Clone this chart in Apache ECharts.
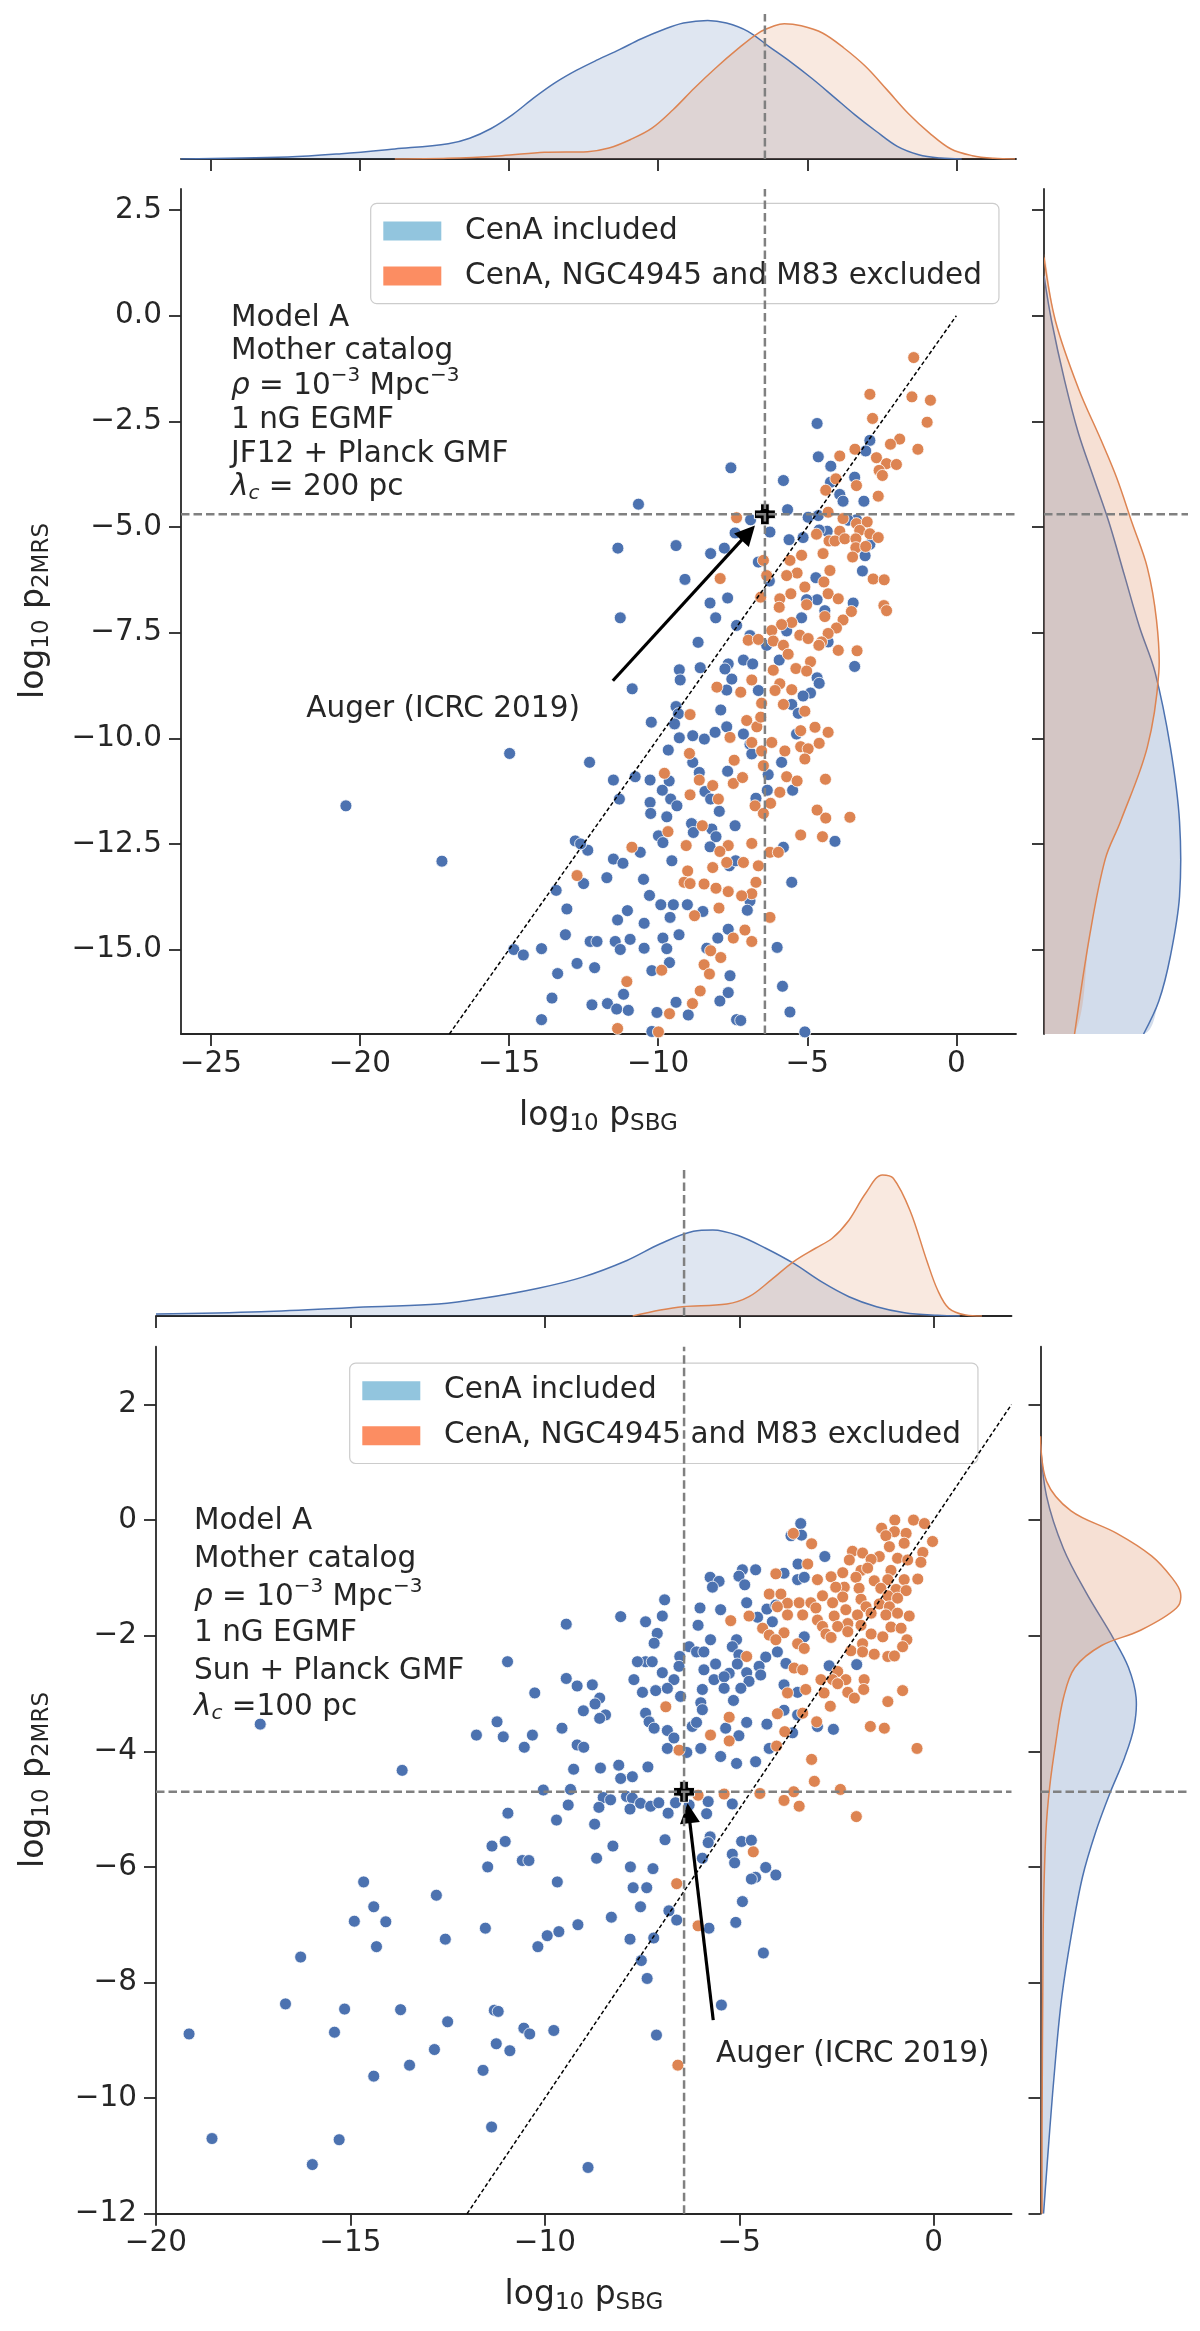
<!DOCTYPE html>
<html lang="en">
<head>
<meta charset="UTF-8">
<title>log10 p2MRS vs log10 pSBG, Model A</title>
<script src="https://cdn.jsdelivr.net/npm/echarts@6/dist/echarts.min.js"></script>
<style>html,body{margin:0;padding:0;background:#fff;}</style>
</head>
<body>
<div id="main" style="width:1200px;height:2331px;"></div>
<script>
// ---- values ----
// upper panel (JF12 + Planck GMF, lambda_c = 200 pc)
var aXTicks = [-25, -20, -15, -10, -5, 0];
var aYTicks = [-15, -12.5, -10, -7.5, -5, -2.5, 0, 2.5];
var aAuger = [-6.42, -4.7];
var aDiag = [[-17, -17], [0, 0]];
var aBlue = [
  [-7.56,-3.60],[-10.66,-4.46],[-7.42,-5.14],[-11.35,-5.50],[-9.40,-5.44],[-8.24,-5.63],[-7.78,-5.50],[-9.10,-6.24],
  [-7.67,-6.68],[-8.26,-6.80],[-11.27,-7.15],[-8.07,-7.15],[-7.37,-7.33],[-8.66,-7.73],[-9.29,-8.38],[-9.26,-8.62],
  [-8.59,-8.33],[-7.65,-8.24],[-7.76,-8.36],[-7.53,-8.60],[-7.70,-8.86],[-10.87,-8.83],
  [-4.67,-2.55],[-4.63,-3.34],[-4.21,-3.56],[-2.90,-2.95],[-3.04,-3.20],[-5.80,-3.90],[-3.41,-3.82],[-4.22,-3.94],
  [-3.91,-4.23],[-3.80,-4.39],[-3.10,-4.39],[-5.66,-4.59],[-6.90,-4.83],[-4.97,-4.77],[-4.63,-4.73],[-6.25,-5.12],
  [-5.61,-5.30],[-5.14,-5.25],[-4.33,-5.10],[-4.60,-5.07],[-3.35,-4.83],[-3.63,-4.84],[-2.90,-5.41],[-3.06,-5.68],
  [-3.15,-6.04],[-6.64,-5.83],[-6.27,-6.28],[-4.71,-6.20],[-4.67,-6.72],[-5.02,-6.72],[-4.41,-6.98],[-3.46,-6.80],
  [-5.19,-7.15],[-5.69,-7.46],[-6.92,-7.57],[-6.36,-7.80],[-4.30,-7.72],[-5.94,-8.15],[-7.14,-8.15],[-6.83,-8.24],
  [-3.41,-8.30],[-4.67,-8.57],[-4.60,-8.70],[-4.89,-8.93],[-5.14,-9.00],[-6.64,-8.87],
  [-14.98,-10.36],[-12.30,-10.57],[-10.23,-9.62],[-9.40,-9.25],[-9.32,-9.42],[-9.45,-9.66],[-9.29,-9.99],[-8.84,-9.94],
  [-8.45,-10.02],[-8.09,-9.86],[-7.70,-9.73],[-7.90,-9.33],[-9.66,-10.28],[-8.84,-10.57],[-8.62,-10.81],[-7.67,-10.78],
  [-11.50,-10.99],[-10.77,-10.91],[-10.27,-10.99],[-9.63,-11.01],[-9.86,-11.23],[-9.58,-11.44],[-9.37,-11.60],
  [-11.30,-11.44],[-10.27,-11.52],[-10.25,-11.78],[-9.71,-11.86],[-8.43,-11.26],[-8.24,-11.44],[-7.95,-11.73],
  [-7.42,-12.07],[-8.88,-12.02],[-8.82,-12.23],[-8.20,-12.15],[-8.06,-12.33],[-9.99,-12.31],[-9.84,-12.47],[-8.26,-12.57],
  [-12.78,-12.43],[-12.36,-12.65],[-12.60,-12.50],[-11.50,-12.86],[-11.18,-12.96],[-10.60,-12.70],[-9.54,-12.90],
  [-7.61,-13.02],[-7.40,-12.90],[-11.72,-13.30],[-10.49,-13.34],[-12.50,-13.44],[-13.42,-13.60],[-10.29,-13.72],
  [-9.91,-13.94],[-9.49,-13.94],[-9.02,-13.94],[-9.60,-14.24],[-8.50,-14.10],[-13.06,-14.04],[-11.03,-14.08],
  [-11.36,-14.30],[-10.47,-14.38],[-13.11,-14.65],[-12.28,-14.81],[-12.05,-14.81],[-11.44,-14.81],[-10.94,-14.76],
  [-11.27,-15.00],[-14.84,-15.00],[-14.52,-15.13],[-13.91,-14.98],[-10.47,-14.97],[-9.84,-14.73],[-9.71,-14.98],
  [-9.30,-14.65],[-12.72,-15.33],[-12.13,-15.43],[-13.37,-15.57],[-9.62,-15.31],[-10.21,-15.50],[-8.37,-14.97],
  [-8.00,-14.73],[-7.65,-14.52],[-7.59,-15.62],[-11.16,-16.06],[-13.56,-16.15],[-12.22,-16.31],[-11.70,-16.28],
  [-11.39,-16.41],[-11.00,-16.44],[-10.04,-16.49],[-9.40,-16.25],[-8.99,-16.55],[-7.93,-16.22],[-7.65,-16.02],
  [-13.91,-16.66],[-7.37,-16.66],[-10.21,-16.94],
  [-5.52,-9.20],[-5.30,-9.41],[-7.14,-9.90],[-6.92,-10.14],[-6.86,-10.37],[-5.36,-9.90],[-5.86,-10.57],[-6.31,-10.86],
  [-6.34,-11.23],[-5.49,-11.23],[-6.72,-11.42],[-4.07,-12.44],[-5.80,-12.58],[-5.52,-13.41],[-6.92,-13.85],
  [-7.01,-14.07],[-6.01,-14.95],[-5.83,-15.87],[-5.58,-16.48],[-7.23,-16.68],[-5.08,-16.95],
  [-20.47,-11.60],[-17.25,-12.91]
];
var aOrange = [
  [-7.37,-4.78],[-7.92,-6.22],[-8.03,-8.79],
  [-1.43,-0.99],[-2.90,-1.86],[-1.49,-1.92],[-0.87,-2.00],[-2.81,-2.43],[-0.98,-2.52],[-1.90,-2.92],[-2.21,-3.04],
  [-1.29,-3.16],[-3.40,-3.16],[-3.91,-3.32],[-2.68,-3.36],[-2.34,-3.50],[-2.01,-3.52],[-2.59,-3.66],[-2.48,-3.78],
  [-4.04,-3.86],[-3.35,-4.02],[-4.38,-4.13],[-2.62,-4.27],[-4.30,-4.65],[-3.80,-4.80],[-3.35,-4.92],[-2.99,-4.88],
  [-3.24,-5.08],[-2.90,-5.16],[-2.62,-5.25],[-3.91,-5.10],[-4.69,-5.17],[-4.27,-5.33],[-4.07,-5.33],[-3.74,-5.28],
  [-3.37,-5.28],[-3.37,-5.49],[-3.04,-5.46],[-3.48,-5.71],[-4.47,-5.63],[-5.19,-5.67],[-5.58,-5.79],[-6.47,-5.79],
  [-4.24,-6.03],[-5.34,-6.09],[-5.69,-6.15],[-6.36,-6.15],[-2.79,-6.23],[-2.42,-6.25],[-4.44,-6.30],[-5.08,-6.42],
  [-6.56,-6.66],[-5.55,-6.58],[-4.30,-6.58],[-5.92,-6.70],[-3.96,-6.70],[-5.02,-6.84],[-5.94,-6.90],[-2.43,-6.86],
  [-2.34,-6.98],[-3.52,-7.00],[-4.41,-7.12],[-3.80,-7.20],[-5.52,-7.26],[-5.86,-7.31],[-4.02,-7.39],[-6.19,-7.45],
  [-4.30,-7.52],[-5.25,-7.56],[-4.97,-7.64],[-6.98,-7.68],[-6.64,-7.66],[-6.14,-7.70],[-4.52,-7.72],[-5.80,-7.80],
  [-4.61,-7.80],[-3.96,-7.92],[-3.33,-7.93],[-5.64,-8.01],[-4.89,-8.19],[-5.38,-8.35],[-5.02,-8.41],[-6.14,-8.39],
  [-6.86,-8.62],[-5.92,-8.71],[-5.52,-8.85],[-6.08,-8.87],[-7.23,-8.91],
  [-8.93,-9.44],[-7.59,-9.98],[-8.95,-10.36],[-7.45,-10.52],[-9.79,-10.83],[-8.62,-10.99],[-8.17,-11.12],[-7.48,-11.07],
  [-8.93,-11.34],[-7.98,-11.44],[-8.52,-12.07],[-9.67,-12.21],[-10.88,-12.58],[-9.06,-12.54],[-7.65,-12.54],
  [-7.93,-12.68],[-7.70,-12.94],[-8.17,-13.06],[-9.01,-13.14],[-12.72,-13.25],[-9.13,-13.41],[-8.93,-13.44],
  [-8.46,-13.45],[-8.06,-13.55],[-7.65,-13.63],[-7.96,-14.02],[-8.78,-14.20],[-7.48,-14.73],[-8.24,-15.03],
  [-7.90,-15.19],[-8.46,-15.36],[-8.28,-15.58],[-9.88,-15.49],[-11.05,-15.76],[-8.59,-15.98],[-8.85,-16.28],
  [-9.62,-16.52],[-11.36,-16.87],[-9.99,-16.95],
  [-6.53,-9.17],[-5.80,-9.20],[-7.03,-9.58],[-6.69,-9.73],[-6.56,-9.50],[-5.08,-9.36],[-5.22,-9.82],[-4.74,-9.74],
  [-4.30,-9.86],[-6.86,-10.10],[-6.19,-10.10],[-6.53,-10.30],[-5.75,-10.30],[-5.22,-10.20],[-4.97,-10.25],
  [-4.60,-10.12],[-5.08,-10.49],[-6.47,-10.65],[-7.17,-10.93],[-5.69,-10.91],[-5.34,-11.01],[-4.39,-10.97],
  [-5.92,-11.28],[-6.23,-11.54],[-6.75,-11.60],[-6.47,-11.78],[-4.67,-11.70],[-4.38,-11.89],[-3.57,-11.87],
  [-5.22,-12.29],[-4.49,-12.33],[-6.86,-12.49],[-6.25,-12.70],[-5.97,-12.70],[-7.14,-12.94],[-6.64,-13.02],
  [-6.72,-13.41],[-6.86,-13.68],[-7.20,-13.73],[-6.25,-14.24],[-7.09,-14.54],[-6.86,-14.81]
];
// marginal densities: [x, density] on top, [density, y] on the side
var aKdeTopBlue = [[-26,0],[-22.42,0.0014],[-20.62,0.0038],[-18.83,0.0072],[-17.04,0.011],[-16.32,0.015],[-15.60,0.022],
  [-14.88,0.032],[-14.17,0.044],[-13.45,0.055],[-12.73,0.064],[-12.02,0.0716],[-11.30,0.0788],[-10.58,0.0865],
  [-9.86,0.093],[-9.15,0.098],[-8.34,0.0999],[-7.71,0.098],[-6.99,0.092],[-6.28,0.081],[-5.56,0.070],[-4.84,0.058],
  [-4.12,0.045],[-3.41,0.032],[-2.69,0.020],[-1.98,0.0091],[-1.26,0.0031],[-0.54,0.0007],[0.18,0]];
var aKdeTopOrange = [[-18.83,0],[-17.04,0.0005],[-15.24,0.0024],[-13.81,0.0048],[-12.37,0.0053],[-11.65,0.0079],
  [-10.94,0.0139],[-10.22,0.022],[-9.50,0.0355],[-8.79,0.051],[-8.07,0.0656],[-7.36,0.0788],[-6.64,0.0908],
  [-6.10,0.096],[-5.77,0.0975],[-5.20,0.096],[-4.49,0.0908],[-3.77,0.080],[-3.05,0.0668],[-2.33,0.050],
  [-1.62,0.033],[-0.90,0.0187],[-0.18,0.0072],[0.54,0.0024],[1.25,0.0005],[1.97,0]];
var aKdeSideBlue = [[0,0.94],[0.0055,-0.13],[0.0149,-1.54],[0.0248,-2.78],[0.0358,-3.84],[0.0469,-4.90],[0.0579,-6.14],
  [0.0689,-7.38],[0.080,-8.44],[0.091,-10.21],[0.0976,-11.97],[0.0976,-13.74],[0.091,-15.16],[0.0827,-16.22],[0.0717,-17]];
var aKdeSideOrange = [[0,1.38],[0.0083,-0.13],[0.0248,-1.72],[0.0413,-2.96],[0.0524,-3.84],[0.0634,-4.90],
  [0.0744,-5.96],[0.081,-7.20],[0.0827,-8.44],[0.0744,-10.21],[0.0551,-11.97],[0.0441,-12.86],[0.0331,-14.63],[0.022,-17]];

// lower panel (Sun + Planck GMF, lambda_c = 100 pc)
var bXTicks = [-20, -15, -10, -5, 0];
var bYTicks = [-12, -10, -8, -6, -4, -2, 0, 2];
var bAuger = [-6.42, -4.7];
var bDiag = [[-12, -12], [2, 2]];
var bBlue = [
  [-3.42,-0.06],[-3.67,-0.27],[-3.40,-0.26],[-2.80,-0.63],[-3.49,-0.76],[-4.58,-0.86],[-4.92,-0.86],[-5.01,-0.97],
  [-4.86,-1.12],[-5.75,-0.99],[-5.52,-1.06],[-5.69,-1.16],[-3.85,-0.92],[-3.50,-1.03],[-3.33,-0.99],[-6.92,-1.38],
  [-4.81,-1.43],[-6.01,-1.52],[-5.48,-1.55],[-4.29,-1.54],[-4.06,-1.47],[-6.98,-1.66],[-7.41,-1.76],[-6.06,-1.82],
  [-4.53,-1.68],[-4.15,-1.76],[-7.11,-1.96],[-7.19,-2.13],[-5.74,-2.07],[-5.07,-2.07],[-6.29,-2.19],[-6.10,-2.28],
  [-5.91,-2.28],[-5.18,-2.19],[-6.53,-2.36],[-5.01,-2.33],[-4.02,-2.28],[-3.33,-2.02],[-4.32,-2.37],[-7.41,-2.45],
  [-7.24,-2.45],[-5.61,-2.49],[-5.05,-2.49],[-6.55,-2.53],[-6.98,-2.64],[-5.91,-2.59],[-5.26,-2.65],[-4.81,-2.64],
  [-4.49,-2.53],[-3.80,-2.48],[-2.69,-2.52],[-1.98,-2.50],[-6.68,-2.76],[-5.65,-2.76],[-5.39,-2.71],[-4.75,-2.79],
  [-4.45,-2.68],[-6.85,-2.91],[-7.15,-2.95],[-7.49,-2.98],[-5.95,-2.93],[-5.39,-2.91],[-4.96,-2.91],[-3.85,-2.85],
  [-6.51,-3.05],[-3.50,-2.98],[-5.15,-3.12],[-5.99,-3.16],[-5.95,-3.28],[-7.41,-3.34],[-3.85,-3.29],[-3.50,-3.37],
  [-7.32,-3.49],[-7.19,-3.60],[-6.21,-3.57],[-6.10,-3.50],[-5.35,-3.60],[-4.81,-3.50],[-4.29,-3.53],[-2.99,-3.57],
  [-2.58,-3.62],[-6.85,-3.64],[-6.68,-3.77],[-5.01,-3.73],[-3.63,-3.68],[-6.85,-3.95],[-6.35,-4.02],[-5.99,-3.95],
  [-4.23,-3.95],[-5.48,-4.09],[-5.07,-4.21],[-4.58,-4.18],[-7.35,-4.27],
  [-8.05,-1.67],[-9.45,-1.80],[-10.96,-2.45],[-7.62,-2.45],[-9.45,-2.74],[-9.17,-2.87],[-8.78,-2.85],[-7.71,-2.76],
  [-10.26,-2.99],[-8.59,-3.08],[-8.71,-3.18],[-9.01,-3.30],[-8.44,-3.37],[-8.59,-3.43],[-11.23,-3.49],[-11.76,-3.72],
  [-11.07,-3.75],[-10.32,-3.72],[-9.56,-3.60],[-10.53,-3.93],[-9.17,-3.89],[-9.00,-3.93],[-13.67,-4.33],[-9.26,-4.31],
  [-8.57,-4.29],[-8.10,-4.24],[-8.05,-4.47],[-7.75,-4.44],[-10.04,-4.67],[-9.34,-4.66],[-8.50,-4.80],[-7.90,-4.78],
  [-10.95,-5.07],[-9.40,-4.93],[-9.70,-5.19],[-8.72,-5.26],[-8.31,-4.84],[-8.61,-4.97],[-7.75,-4.81],[-7.81,-5.00],
  [-7.54,-4.90],[-7.28,-4.95],[-7.07,-4.89],[-6.83,-5.07],[-6.64,-4.89],[-6.29,-4.93],[-5.80,-4.87],[-5.18,-4.91],
  [-5.84,-5.08],[-11.36,-5.64],[-11.02,-5.56],[-11.47,-6.00],[-10.58,-5.89],[-10.41,-5.89],[-8.25,-5.64],[-8.67,-5.85],
  [-6.91,-5.53],[-7.80,-6.00],[-7.22,-6.03],[-9.68,-6.26],[-7.73,-6.36],[-7.38,-6.36],[-7.54,-6.69],[-12.79,-6.49],
  [-12.56,-7.25],[-11.53,-7.06],[-10.18,-7.38],[-9.94,-7.19],[-9.64,-7.12],[-9.15,-7.00],[-8.29,-6.87],[-7.81,-7.25],
  [-7.20,-7.23],[-6.81,-6.76],[-6.61,-6.92],[-7.52,-7.62],[-7.37,-7.93],[-5.78,-7.06],[-5.75,-5.48],[-5.80,-5.58],
  [-5.95,-5.85],[-5.18,-5.78],[-5.12,-5.93],[-4.94,-5.56],[-4.69,-5.54],[-4.32,-6.01],[-4.58,-6.18],[-4.69,-6.21],
  [-4.06,-6.14],[-4.92,-6.60],[-5.09,-6.96],[-4.38,-7.49],[-5.46,-8.39],[-12.50,-8.68],[-11.30,-8.48],[-11.20,-8.50],
  [-10.54,-8.79],[-10.39,-8.89],[-9.77,-8.83],[-11.25,-9.06],[-10.90,-9.18],[-12.84,-9.16],[-11.59,-9.52],[-7.13,-8.91],
  [-17.32,-3.53],[-19.15,-8.89],[-18.56,-10.70],[-15.98,-11.15],[-15.29,-10.72],[-16.67,-8.37],[-16.28,-7.56],
  [-15.41,-8.86],[-15.15,-8.46],[-14.90,-6.94],[-14.66,-6.26],[-14.40,-6.69],[-14.33,-7.38],[-14.09,-6.95],
  [-14.40,-9.62],[-13.71,-8.47],[-13.48,-9.43],[-11.37,-10.50],[-8.89,-11.20]
];
var bOrange = [
  [-1.00,0.00],[-0.52,0.00],[-0.24,-0.06],[-1.34,-0.14],[-1.01,-0.20],[-0.71,-0.23],[-1.23,-0.27],[-0.03,-0.37],
  [-3.61,-0.23],[-3.14,-0.41],[-0.76,-0.40],[-1.14,-0.46],[-2.09,-0.54],[-1.83,-0.57],[-1.40,-0.63],[-0.93,-0.66],
  [-0.28,-0.56],[-0.33,-0.73],[-1.61,-0.68],[-2.17,-0.69],[-0.67,-0.69],[-3.24,-0.76],[-1.87,-0.87],[-2.34,-0.91],
  [-1.70,-0.83],[-1.10,-0.87],[-4.06,-0.93],[-2.64,-0.98],[-2.99,-1.03],[-2.00,-0.99],[-1.53,-1.05],[-1.18,-1.03],
  [-0.76,-1.03],[-0.41,-1.02],[-2.30,-1.16],[-1.92,-1.18],[-2.52,-1.16],[-1.36,-1.18],[-0.97,-1.20],[-0.71,-1.22],
  [-4.23,-1.28],[-3.93,-1.28],[-2.86,-1.31],[-2.34,-1.33],[-1.18,-1.31],[-0.93,-1.35],[-3.76,-1.44],[-3.46,-1.43],
  [-3.16,-1.43],[-2.60,-1.43],[-1.87,-1.37],[-1.40,-1.45],[-4.02,-1.50],[-3.03,-1.52],[-2.26,-1.55],[-1.74,-1.50],
  [-1.14,-1.50],[-3.76,-1.64],[-3.37,-1.64],[-2.56,-1.66],[-1.96,-1.64],[-1.61,-1.61],[-1.23,-1.64],[-0.93,-1.61],
  [-0.63,-1.66],[-4.75,-1.66],[-5.22,-1.74],[-2.99,-1.73],[-2.21,-1.79],[-1.87,-1.82],[-4.40,-1.87],[-2.86,-1.84],
  [-2.47,-1.84],[-1.10,-1.85],[-0.84,-1.87],[-4.23,-1.99],[-3.85,-1.95],[-2.77,-1.97],[-2.21,-1.93],[-1.61,-1.97],
  [-4.06,-2.07],[-2.64,-2.03],[-1.31,-2.02],[-0.69,-2.07],[-3.50,-2.14],[-1.83,-2.14],[-0.80,-2.19],[-3.33,-2.22],
  [-2.13,-2.26],[-1.83,-2.28],[-1.53,-2.32],[-1.18,-2.36],[-1.01,-2.35],[-4.81,-2.36],[-3.59,-2.56],[-3.37,-2.59],
  [-2.47,-2.62],[-2.90,-2.76],[-2.60,-2.76],[-2.26,-2.76],[-1.79,-2.76],[-3.29,-2.93],[-2.82,-2.99],[-2.47,-2.83],
  [-2.21,-2.98],[-1.80,-2.93],[-3.76,-2.99],[-2.04,-3.08],[-0.80,-2.95],[-1.18,-3.14],[-2.66,-3.22],[-6.89,-3.23],
  [-4.02,-3.35],[-3.37,-3.34],[-5.26,-3.41],[-3.01,-3.49],[-1.63,-3.57],[-1.27,-3.60],[-3.83,-3.66],[-5.74,-3.72],
  [-5.26,-3.82],[-4.04,-3.91],[-6.55,-3.98],[-0.43,-3.95],[-3.14,-4.14],
  [-6.06,-4.76],[-5.39,-4.74],[-4.47,-4.73],[-3.85,-4.85],[-3.46,-4.95],[-3.60,-4.70],[-4.64,-5.74],[-6.61,-6.29],
  [-6.06,-7.02],[-6.58,-9.43],[-2.40,-4.66],[-1.99,-5.13],[-3.07,-4.52]
];
var bKdeTopBlue = [[-20,0.0014],[-17.30,0.0031],[-14.45,0.0067],[-12.74,0.0086],[-11.60,0.0127],[-10.17,0.020],
  [-9.03,0.028],[-7.89,0.040],[-7.03,0.052],[-6.18,0.061],[-5.68,0.062],[-5.03,0.058],[-4.32,0.0488],[-3.61,0.038],
  [-2.89,0.0247],[-2.18,0.0139],[-1.47,0.0067],[-0.75,0.0024],[0.10,0.0005],[0.67,0]];
var bKdeTopOrange = [[-7.74,0],[-7.03,0.0043],[-6.46,0.0067],[-5.32,0.0086],[-4.75,0.0139],[-4.18,0.026],
  [-3.61,0.039],[-3.04,0.0488],[-2.61,0.056],[-2.18,0.069],[-1.75,0.0884],[-1.32,0.1016],[-1.04,0.0992],
  [-0.61,0.076],[-0.18,0.040],[0.10,0.0187],[0.39,0.0055],[0.82,0.0007],[1.24,0]];
var bKdeSideBlue = [[0,1.32],[0.0044,0.41],[0.0165,-0.49],[0.033,-1.26],[0.0524,-2.04],[0.0634,-2.55],[0.0689,-3.07],
  [0.0673,-3.59],[0.0606,-4.11],[0.0496,-4.75],[0.0397,-5.40],[0.0303,-6.17],[0.022,-7.21],[0.0154,-8.24],
  [0.011,-9.28],[0.0066,-10.57],[0.0022,-12]];
var bKdeSideOrange = [[0,1.45],[0.0044,0.67],[0.022,0.16],[0.055,-0.23],[0.080,-0.62],[0.0948,-1.0],[0.1009,-1.26],
  [0.098,-1.52],[0.0717,-1.91],[0.044,-2.17],[0.0248,-2.55],[0.0166,-3.07],[0.011,-3.85],[0.0066,-4.62],
  [0.0039,-5.40],[0.0022,-6.69],[0.0017,-7.98],[0.0011,-10.57],[0.0011,-12]];

var legendNames = ['CenA included', 'CenA, NGC4945 and M83 excluded'];

// ---- styling ----
var FONT = 'DejaVu Sans';
var INK = '#262626';
var BLUE = '#4c72b0', ORANGE = '#dd8452';
var BLUE_FILL = 'rgba(76,114,176,0.25)', ORANGE_FILL = 'rgba(221,132,82,0.25)';
var REF = '#808080';
var PLUS = 'path://M-1.25,-3L1.25,-3L1.25,-1.25L3,-1.25L3,1.25L1.25,1.25L1.25,3L-1.25,3L-1.25,1.25L-3,1.25L-3,-1.25L-1.25,-1.25Z';

function minus(s) { return String(s).replace('-', '\u2212'); }

var panels = [
  {
    main: {left: 181, top: 189, width: 835, height: 845},
    topM: {left: 181, top: 14, width: 835, height: 145},
    sideM: {left: 1044, top: 189, width: 144, height: 845},
    xr: [-26, 2], yr: [-17, 3], topMax: 0.1045, sideMax: 0.1037, yDec: 1,
    xTicks: aXTicks, yTicks: aYTicks, blue: aBlue, orange: aOrange, auger: aAuger, diag: aDiag,
    kTB: aKdeTopBlue, kTO: aKdeTopOrange, kSB: aKdeSideBlue, kSO: aKdeSideOrange,
    arrowFrom: [-11.52, -8.64], arrowTo: [-6.98, -5.14], labelAt: [-21.8, -9.32],
    legend: {left: 370.7, top: 203.3},
    textX: 231, textY: [318, 351, 386, 420, 454, 487],
    lines: ['Model A', 'Mother catalog', '{i|\u03c1}{n| = 10}{sup|\u22123}{n| Mpc}{sup|\u22123}', '1 nG EGMF',
            'JF12 + Planck GMF', '{i|\u03bb}{sub|c}{n| = 200 pc}'],
    xName: [598.5, 1116], yName: [34.4, 611]
  },
  {
    main: {left: 156, top: 1346.7, width: 855.5, height: 867},
    topM: {left: 156, top: 1167, width: 855.5, height: 149},
    sideM: {left: 1040.5, top: 1346.7, width: 147.5, height: 867},
    xr: [-20, 2], yr: [-12, 3], topMax: 0.1073, sideMax: 0.1063, yDec: 0,
    xTicks: bXTicks, yTicks: bYTicks, blue: bBlue, orange: bOrange, auger: bAuger, diag: bDiag,
    kTB: bKdeTopBlue, kTO: bKdeTopOrange, kSB: bKdeSideBlue, kSO: bKdeSideOrange,
    arrowFrom: [-5.67, -8.65], arrowTo: [-6.30, -5.07], labelAt: [-5.60, -9.25],
    legend: {left: 349.7, top: 1363.1},
    textX: 194, textY: [1521.5, 1559, 1597, 1633.5, 1671.6, 1707],
    lines: ['Model A', 'Mother catalog', '{i|\u03c1}{n| = 10}{sup|\u22123}{n| Mpc}{sup|\u22123}', '1 nG EGMF',
            'Sun + Planck GMF', '{i|\u03bb}{sub|c}{n| =100 pc}'],
    xName: [584, 2295], yName: [34.4, 1780]
  }
];

var grids = [], xAxes = [], yAxes = [], series = [], legends = [], graphics = [];

var axisLine = {show: true, onZero: false, lineStyle: {color: INK, width: 1.8}};
function ticks(vals) { return {show: true, length: 12, customValues: vals, lineStyle: {color: INK, width: 1.8}}; }
function labels(vals, fmt) {
  return {show: true, customValues: vals, formatter: fmt, fontSize: 29.5, color: INK, fontFamily: FONT, margin: 15};
}

var TEXT_RICH = {
  n: {fontSize: 29.5, fontFamily: FONT, fill: INK},
  i: {fontSize: 29.5, fontFamily: FONT, fontStyle: 'italic', fill: INK},
  sup: {fontSize: 20, fontFamily: FONT, fill: INK, padding: [0, 0, 20, 0]},
  sub: {fontSize: 20, fontFamily: FONT, fontStyle: 'italic', fill: INK, padding: [14, 0, 0, 0]}
};
var NAME_RICH = {
  m: {fontSize: 33, fontFamily: FONT, fill: INK},
  s: {fontSize: 23, fontFamily: FONT, fill: INK, padding: [16, 0, 0, 0]}
};

function sideKde(pts, idx, stroke, fill) {
  return {
    type: 'custom', xAxisIndex: idx, yAxisIndex: idx, clip: true, silent: true, z: 2,
    data: [[0, pts[0][1]]],
    renderItem: function (params, api) {
      var curve = pts.map(function (p) { return api.coord(p); });
      var last = pts[pts.length - 1];
      var poly = curve.concat([api.coord([0, last[1]])]);
      return {type: 'group', children: [
        {type: 'polygon', shape: {points: poly, smooth: 0.35}, style: {fill: fill}},
        {type: 'polyline', shape: {points: curve, smooth: 0.35}, style: {stroke: stroke, lineWidth: 1.5, fill: null}}
      ]};
    }
  };
}

function refLine(idx, pts) {
  return {type: 'line', xAxisIndex: idx, yAxisIndex: idx, data: pts, symbol: 'none', silent: true, z: 6,
    lineStyle: {color: REF, width: 2.5, type: [8.5, 4]}};
}

panels.forEach(function (p, k) {
  var g0 = 3 * k, g1 = 3 * k + 1, g2 = 3 * k + 2;
  grids.push(p.main, p.topM, p.sideM);

  var xFmt = function (v) { return minus(v); };
  var yFmt = function (v) { return minus(v.toFixed(p.yDec)); };

  // main axes
  xAxes[g0] = {gridIndex: g0, type: 'value', min: p.xr[0], max: p.xr[1], axisLine: axisLine,
    axisTick: ticks(p.xTicks), axisLabel: labels(p.xTicks, xFmt), splitLine: {show: false}};
  yAxes[g0] = {gridIndex: g0, type: 'value', min: p.yr[0], max: p.yr[1], axisLine: axisLine,
    axisTick: ticks(p.yTicks), axisLabel: Object.assign(labels(p.yTicks, yFmt), {margin: 19}), splitLine: {show: false}};
  // top marginal
  xAxes[g1] = {gridIndex: g1, type: 'value', min: p.xr[0], max: p.xr[1], axisLine: axisLine,
    axisTick: ticks(p.xTicks), axisLabel: {show: false}, splitLine: {show: false}};
  yAxes[g1] = {gridIndex: g1, type: 'value', min: 0, max: p.topMax, show: false, splitLine: {show: false}};
  // side marginal
  xAxes[g2] = {gridIndex: g2, type: 'value', min: 0, max: p.sideMax, show: false, splitLine: {show: false}};
  yAxes[g2] = {gridIndex: g2, type: 'value', min: p.yr[0], max: p.yr[1], axisLine: axisLine,
    axisTick: ticks(p.yTicks), axisLabel: {show: false}, splitLine: {show: false}};

  // marginal densities
  series.push({type: 'line', name: 'kde-top-blue-' + k, xAxisIndex: g1, yAxisIndex: g1, data: p.kTB, smooth: 0.35,
    symbol: 'none', silent: true, z: 2, lineStyle: {color: BLUE, width: 1.5}, areaStyle: {color: BLUE_FILL}});
  series.push({type: 'line', name: 'kde-top-orange-' + k, xAxisIndex: g1, yAxisIndex: g1, data: p.kTO, smooth: 0.35,
    symbol: 'none', silent: true, z: 2, lineStyle: {color: ORANGE, width: 1.5}, areaStyle: {color: ORANGE_FILL}});
  series.push(sideKde(p.kSB, g2, BLUE, BLUE_FILL));
  series.push(sideKde(p.kSO, g2, ORANGE, ORANGE_FILL));

  // scatter
  series.push({type: 'scatter', name: legendNames[0], xAxisIndex: g0, yAxisIndex: g0, data: p.blue,
    symbolSize: 12, z: 3, itemStyle: {color: BLUE, borderColor: '#ffffff', borderWidth: 0.8, opacity: 1}});
  series.push({type: 'scatter', name: legendNames[1], xAxisIndex: g0, yAxisIndex: g0, data: p.orange,
    symbolSize: 12, z: 3, itemStyle: {color: ORANGE, borderColor: '#ffffff', borderWidth: 0.8, opacity: 1}});

  // one-to-one line
  series.push({type: 'line', xAxisIndex: g0, yAxisIndex: g0, data: p.diag, symbol: 'none', silent: true, z: 4,
    lineStyle: {color: '#000000', width: 1.5, type: [4, 2.5]}});

  // Auger reference point and arrow
  series.push({type: 'scatter', xAxisIndex: g0, yAxisIndex: g0, data: [p.auger], z: 5, silent: true,
    symbol: PLUS, symbolSize: 21,
    itemStyle: {color: '#000000', borderColor: '#ffffff', borderWidth: 1, opacity: 1},
    markLine: {silent: true, animation: false, symbol: ['none', 'triangle'], symbolSize: 20,
      label: {show: false}, emphasis: {disabled: true},
      lineStyle: {color: '#000000', width: 3.2, type: 'solid', opacity: 1},
      data: [[{coord: p.arrowFrom}, {coord: p.arrowTo}]]}});
  // annotation text, placed through the axes
  series.push({type: 'custom', xAxisIndex: g0, yAxisIndex: g0, data: [p.labelAt], silent: true, z: 5,
    renderItem: function (params, api) {
      var c = api.coord([api.value(0), api.value(1)]);
      return {type: 'text', x: c[0], y: c[1], style: {text: 'Auger (ICRC 2019)', fill: INK, fontSize: 29.5,
        fontFamily: FONT, align: 'left', verticalAlign: 'middle'}};
    }});

  // dashed reference lines through the Auger values
  series.push(refLine(g0, [[p.xr[0], p.auger[1]], [p.xr[1], p.auger[1]]]));
  series.push(refLine(g0, [[p.auger[0], p.yr[0]], [p.auger[0], p.yr[1]]]));
  series.push(refLine(g1, [[p.auger[0], 0], [p.auger[0], p.topMax]]));
  series.push(refLine(g2, [[0, p.auger[1]], [p.sideMax, p.auger[1]]]));

  legends.push({
    orient: 'vertical', left: p.legend.left, top: p.legend.top, padding: [12.7, 17, 12.7, 12.6],
    itemWidth: 58, itemHeight: 19, itemGap: 15, icon: 'rect', selectedMode: false,
    backgroundColor: 'rgba(255,255,255,0.8)', borderColor: '#cccccc', borderWidth: 1.2, borderRadius: 6,
    textStyle: {fontSize: 29.5, color: INK, fontFamily: FONT},
    formatter: function (n) { return '  ' + n; },
    data: [
      {name: legendNames[0], itemStyle: {color: '#92c5de', borderWidth: 0, opacity: 1}},
      {name: legendNames[1], itemStyle: {color: '#fc8d62', borderWidth: 0, opacity: 1}}
    ]
  });

  // model description text
  p.lines.forEach(function (t, i) {
    var txt = t.charAt(0) === '{' ? t : '{n|' + t + '}';
    graphics.push({type: 'text', x: p.textX, y: p.textY[i], silent: true,
      style: {text: txt, rich: TEXT_RICH, align: 'left', verticalAlign: 'middle'}});
  });

  // axis titles
  graphics.push({type: 'text', x: p.xName[0], y: p.xName[1], silent: true,
    style: {text: '{m|log}{s|10}{m| p}{s|SBG}', rich: NAME_RICH, align: 'center', verticalAlign: 'middle'}});
  graphics.push({type: 'text', x: p.yName[0], y: p.yName[1], rotation: Math.PI / 2, silent: true,
    style: {text: '{m|log}{s|10}{m| p}{s|2MRS}', rich: NAME_RICH, align: 'center', verticalAlign: 'middle'}});
});

var chart = echarts.init(document.getElementById('main'), null, {renderer: 'canvas'});
chart.setOption({
  animation: false,
  backgroundColor: '#ffffff',
  grid: grids,
  xAxis: xAxes,
  yAxis: yAxes,
  legend: legends,
  series: series,
  graphic: graphics
});
</script>
</body>
</html>
